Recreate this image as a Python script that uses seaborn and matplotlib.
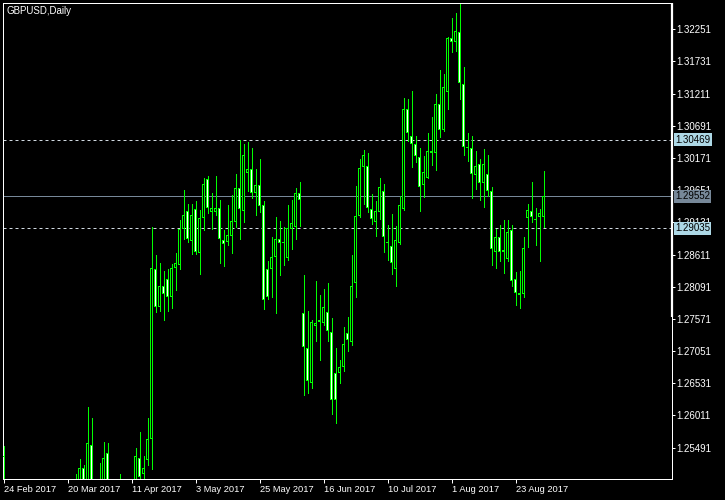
import matplotlib
matplotlib.use("Agg")
import numpy as np
import pandas as pd
import matplotlib.pyplot as plt
import seaborn as sns

# GBPUSD daily bars, 24 Feb 2017 .. 1 Sep 2017
opens = [1.2535, 1.2472, 1.2415, 1.2410, 1.2290, 1.2275, 1.2300, 1.2245, 1.2210, 1.2165,
         1.2175, 1.2190, 1.2215, 1.2155, 1.2280, 1.2375, 1.2400, 1.2370, 1.2470, 1.2480,
         1.2516, 1.2455, 1.2553, 1.2450, 1.2420, 1.2460, 1.2541, 1.2490, 1.2430, 1.2480,
         1.2450, 1.2400, 1.2405, 1.2470, 1.2533, 1.2507, 1.2529, 1.2563, 1.2837, 1.2776,
         1.2811, 1.2821, 1.2793, 1.2840, 1.2845, 1.2903, 1.2932, 1.2883, 1.2934, 1.2864,
         1.2920, 1.2983, 1.2930, 1.2930, 1.2937, 1.2885, 1.2882, 1.2891, 1.2914, 1.2968,
         1.2932, 1.2993, 1.2999, 1.2960, 1.2973, 1.2941, 1.2837, 1.2837, 1.2857, 1.2887,
         1.2879, 1.2855, 1.2902, 1.2905, 1.2960, 1.2766, 1.2710, 1.2653, 1.2746, 1.2752,
         1.2750, 1.2769, 1.2736, 1.2670, 1.2670, 1.2680, 1.2735, 1.2719, 1.2815, 1.2923,
         1.3002, 1.3005, 1.2934, 1.2913, 1.2930, 1.2963, 1.2881, 1.2875, 1.2837, 1.2880,
         1.2935, 1.3096, 1.3052, 1.3039, 1.3018, 1.2973, 1.2985, 1.3028, 1.3026, 1.3105,
         1.3062, 1.3124, 1.3211, 1.3205, 1.3221, 1.3136, 1.3035, 1.3033, 1.2989, 1.3007,
         1.2976, 1.2991, 1.2963, 1.2866, 1.2890, 1.2868, 1.2854, 1.2900, 1.2821, 1.2799,
         1.2798, 1.2920, 1.2931, 1.2919, 1.2921, 1.2922]
highs = [1.2552, 1.2490, 1.2445, 1.2420, 1.2320, 1.2335, 1.2325, 1.2260, 1.2225, 1.2195,
         1.2230, 1.2255, 1.2225, 1.2300, 1.2395, 1.2430, 1.2420, 1.2480, 1.2506, 1.2531,
         1.2521, 1.2615, 1.2597, 1.2480, 1.2524, 1.2558, 1.2556, 1.2495, 1.2490, 1.2506,
         1.2475, 1.2420, 1.2495, 1.2548, 1.2574, 1.2535, 1.2597, 1.2906, 1.2860, 1.2847,
         1.2834, 1.2838, 1.2846, 1.2864, 1.2917, 1.2965, 1.2943, 1.2943, 1.2948, 1.2933,
         1.2984, 1.2988, 1.2960, 1.2988, 1.2949, 1.2901, 1.2941, 1.2957, 1.2991, 1.3047,
         1.3040, 1.3043, 1.3033, 1.2999, 1.3015, 1.2948, 1.2851, 1.2889, 1.2921, 1.2916,
         1.2905, 1.2941, 1.2949, 1.2968, 1.2979, 1.2828, 1.2770, 1.2756, 1.2818, 1.2796,
         1.2805, 1.2815, 1.2758, 1.2710, 1.2691, 1.2744, 1.2760, 1.2860, 1.2972, 1.3015,
         1.3030, 1.3025, 1.2959, 1.2948, 1.2984, 1.2975, 1.2909, 1.2927, 1.2907, 1.2956,
         1.3114, 1.3112, 1.3125, 1.3053, 1.3033, 1.3020, 1.3057, 1.3084, 1.3120, 1.3159,
         1.3153, 1.3213, 1.3244, 1.3251, 1.3268, 1.3164, 1.3058, 1.3053, 1.3028, 1.3015,
         1.3032, 1.3022, 1.2970, 1.2902, 1.2909, 1.2917, 1.2917, 1.2909, 1.2833, 1.2835,
         1.2890, 1.2943, 1.2978, 1.2937, 1.2934, 1.2996]
lows = [1.2455, 1.2400, 1.2380, 1.2275, 1.2250, 1.2215, 1.2240, 1.2190, 1.2150, 1.2135,
        1.2135, 1.2180, 1.2110, 1.2135, 1.2260, 1.2350, 1.2345, 1.2360, 1.2420, 1.2450,
        1.2440, 1.2450, 1.2430, 1.2380, 1.2410, 1.2440, 1.2450, 1.2420, 1.2420, 1.2430,
        1.2365, 1.2365, 1.2390, 1.2460, 1.2490, 1.2495, 1.2521, 1.2514, 1.2769, 1.2770,
        1.2756, 1.2770, 1.2774, 1.2804, 1.2838, 1.2887, 1.2882, 1.2862, 1.2862, 1.2830,
        1.2900, 1.2929, 1.2902, 1.2925, 1.2848, 1.2843, 1.2877, 1.2864, 1.2905, 1.2887,
        1.2914, 1.2964, 1.2952, 1.2925, 1.2930, 1.2773, 1.2790, 1.2793, 1.2767, 1.2828,
        1.2844, 1.2852, 1.2870, 1.2887, 1.2907, 1.2634, 1.2638, 1.2645, 1.2722, 1.2690,
        1.2748, 1.2722, 1.2603, 1.2589, 1.2653, 1.2673, 1.2706, 1.2715, 1.2793, 1.2922,
        1.2943, 1.2930, 1.2910, 1.2891, 1.2918, 1.2866, 1.2852, 1.2830, 1.2810, 1.2878,
        1.2933, 1.3045, 1.3003, 1.3010, 1.2932, 1.2954, 1.2985, 1.3006, 1.2998, 1.3051,
        1.3060, 1.3097, 1.3189, 1.3190, 1.3112, 1.3022, 1.3013, 1.2952, 1.2967, 1.2950,
        1.2938, 1.2955, 1.2844, 1.2840, 1.2851, 1.2831, 1.2850, 1.2810, 1.2780, 1.2774,
        1.2793, 1.2874, 1.2914, 1.2877, 1.2851, 1.2906]
closes = [1.2472, 1.2415, 1.2410, 1.2290, 1.2275, 1.2300, 1.2245, 1.2210, 1.2165, 1.2175,
          1.2190, 1.2215, 1.2155, 1.2280, 1.2375, 1.2400, 1.2370, 1.2470, 1.2480, 1.2516,
          1.2455, 1.2557, 1.2450, 1.2420, 1.2460, 1.2533, 1.2490, 1.2430, 1.2480, 1.2450,
          1.2400, 1.2405, 1.2470, 1.2535, 1.2501, 1.2516, 1.2563, 1.2839, 1.2776, 1.2811,
          1.2798, 1.2793, 1.2840, 1.2847, 1.2903, 1.2925, 1.2886, 1.2925, 1.2866, 1.2920,
          1.2975, 1.2936, 1.2936, 1.2937, 1.2886, 1.2878, 1.2892, 1.2915, 1.2968, 1.2934,
          1.3022, 1.2999, 1.2960, 1.2973, 1.2940, 1.2787, 1.2793, 1.2857, 1.2887, 1.2879,
          1.2881, 1.2904, 1.2912, 1.2960, 1.2950, 1.2712, 1.2657, 1.2752, 1.2750, 1.2755,
          1.2777, 1.2738, 1.2626, 1.2626, 1.2680, 1.2716, 1.2723, 1.2811, 1.2924, 1.3001,
          1.3022, 1.2937, 1.2918, 1.2932, 1.2971, 1.2889, 1.2879, 1.2847, 1.2884, 1.2941,
          1.3096, 1.3057, 1.3039, 1.3021, 1.2971, 1.2994, 1.3028, 1.3026, 1.3105, 1.3062,
          1.3132, 1.3211, 1.3205, 1.3223, 1.3139, 1.3035, 1.3034, 1.2992, 1.3005, 1.2976,
          1.3007, 1.2963, 1.2870, 1.2890, 1.2866, 1.2865, 1.2898, 1.2819, 1.2799, 1.2796,
          1.2871, 1.2933, 1.2922, 1.2917, 1.2929, 1.29552]

date_ticks = [0, 16, 32, 48, 64, 80, 96, 112, 128]
date_labels = ["24 Feb 2017", "20 Mar 2017", "11 Apr 2017", "3 May 2017", "25 May 2017",
               "16 Jun 2017", "10 Jul 2017", "1 Aug 2017", "23 Aug 2017"]
price_ticks = [1.25491, 1.26011, 1.26531, 1.27051, 1.27571, 1.28091, 1.28611,
               1.29131, 1.29651, 1.30171, 1.30691, 1.31211, 1.31731, 1.32251]
level_lines = [1.30469, 1.29035]
bid = 1.29552

sns.set_style("dark", {"axes.facecolor": "black", "figure.facecolor": "black",
                       "axes.edgecolor": "white", "axes.grid": False})
plt.rcParams['font.family'] = ['Liberation Sans', 'DejaVu Sans']

df = pd.DataFrame({"open": opens, "high": highs, "low": lows, "close": closes})
df["bull"] = df["close"] >= df["open"]
df["body_lo"] = df[["open", "close"]].min(axis=1)
df["body_h"] = (df["close"] - df["open"]).abs()

fig = plt.figure(figsize=(7.25, 5), dpi=100, facecolor="black")
ax = fig.add_axes([3 / 725, 21 / 500, 669 / 725, 476 / 500])
ax.set_facecolor("black")

ymin, ymax = 1.24984, 1.32676
ax.set_xlim(-0.125, 167.125)
ax.set_ylim(ymin, ymax)
px = (ymax - ymin) / 476  # price per pixel, for the 1px body outline

green = "#00ff00"
x = df.index.values
ax.vlines(x, df["low"], df["high"], colors=green, lw=0.72, antialiased=False, zorder=2)
# green body (3px wide), then fill (1px wide) inset by one pixel
ax.bar(x, np.maximum(df["body_h"], px * 0.5), bottom=df["body_lo"], width=0.75,
       color=green, linewidth=0, antialiased=False, zorder=3)
inner = df[df["body_h"] > 2.2 * px]
ax.bar(inner.index.values, inner["body_h"] - 2 * px, bottom=inner["body_lo"] + px,
       width=0.25, color=np.where(inner["bull"], "black", "white"), linewidth=0,
       antialiased=False, zorder=4)

for lv in level_lines:
    ax.axhline(lv, color="#d0d8e0", lw=0.72, ls=(0, (3, 3)), zorder=1)
    ax.text(1.0045, lv, f"{lv:.5f}", transform=ax.get_yaxis_transform(), va="center",
            ha="left", fontsize=7, color="black", clip_on=False, zorder=6,
            bbox=dict(boxstyle="square,pad=0.15", fc="#add8e6", ec="none"))
ax.axhline(bid, color="#778899", lw=0.72, zorder=1)
ax.text(1.0045, bid, f"{bid:.5f}", transform=ax.get_yaxis_transform(), va="center",
        ha="left", fontsize=7, color="black", clip_on=False, zorder=6,
        bbox=dict(boxstyle="square,pad=0.15", fc="#778899", ec="none"))

ax.yaxis.tick_right()
ax.set_yticks(price_ticks)
ax.set_yticklabels([f"{p:.5f}" for p in price_ticks])
ax.set_xticks(date_ticks)
ax.set_xticklabels(date_labels, ha="left")
ax.tick_params(axis="y", direction="out", length=2.5, width=0.72, colors="white",
               labelsize=7, pad=0.8)
ax.tick_params(axis="x", direction="out", length=3, width=0.72, colors="white",
               labelsize=6.7, pad=1)
ax.tick_params(axis="both", which="both", bottom=True, right=True, left=False, top=False)

for s in ax.spines.values():
    s.set_color("white")
    s.set_linewidth(0.72)

# thick segment on the price scale
ax.plot([1.0004, 1.0004], [(479 - 317) / 476, 1.0], transform=ax.transAxes,
        color="white", lw=1.6, clip_on=False, solid_capstyle="butt", zorder=5)

ax.text(0.005, 0.994, "GBPUSD,Daily", transform=ax.transAxes, ha="left", va="top",
        fontsize=7, color="white")

fig.savefig("out.png", dpi=100, facecolor="black")
